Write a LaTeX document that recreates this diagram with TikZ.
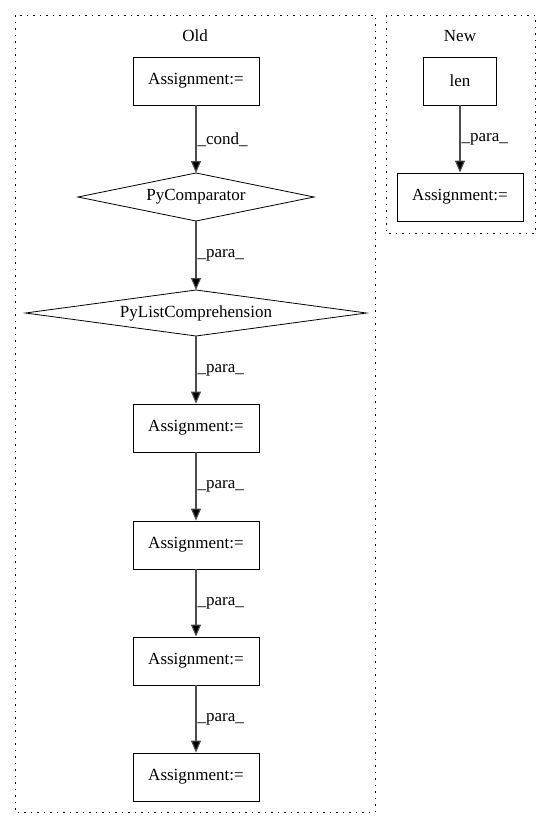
\documentclass[tikz,border=0pt]{standalone}
\usepackage{fontspec}
\setmainfont{Liberation Serif}
\usetikzlibrary{arrows.meta}
\begin{document}
\begin{tikzpicture}[x=1pt,y=-1pt,
  every node/.style={font=\fontsize{17}{19}\selectfont},
  box/.style={draw,line width=0.8pt,minimum width=126pt,minimum height=48pt,inner sep=0pt},
  dia/.style={inner sep=0pt,outer sep=0pt},
  dialine/.style={draw,line width=0.8pt},
  edge/.style={draw=black!70,line width=1.1pt,-{Triangle[length=12pt,width=10pt,fill=black]}},
  lab/.style={anchor=west,inner sep=1pt},
  cluster/.style={draw,line width=1pt,dash pattern=on 1.5pt off 5pt}]
\useasboundingbox (0,0) rectangle (549,828);
\draw[cluster] (15,15) rectangle (375,812);
\draw[cluster] (386,15) rectangle (535,233);
\node (old) at (195,36) {Old};
\node (new) at (460,36) {New};
\node[box] (a1) at (196,81) {Assignment:=};
\node[dia,minimum width=236pt,minimum height=48pt] (pc) at (196,197) {PyComparator};
\draw[dialine] (pc.north) -- (pc.east) -- (pc.south) -- (pc.west) -- cycle;
\node[dia,minimum width=341pt,minimum height=46pt] (plc) at (196,313) {PyListComprehension};
\draw[dialine] (plc.north) -- (plc.east) -- (plc.south) -- (plc.west) -- cycle;
\node[box] (a2) at (196,428) {Assignment:=};
\node[box] (a3) at (196,545) {Assignment:=};
\node[box] (a4) at (196,661) {Assignment:=};
\node[box] (a5) at (196,777) {Assignment:=};
\node[box,minimum width=73pt] (len) at (460,81) {len};
\node[box] (b1) at (460,197) {Assignment:=};
\draw[edge] (a1) -- node[lab] {\_cond\_} (pc);
\draw[edge] (pc) -- node[lab] {\_para\_} (plc);
\draw[edge] (plc) -- node[lab] {\_para\_} (a2);
\draw[edge] (a2) -- node[lab] {\_para\_} (a3);
\draw[edge] (a3) -- node[lab] {\_para\_} (a4);
\draw[edge] (a4) -- node[lab] {\_para\_} (a5);
\draw[edge] (len) -- node[lab] {\_para\_} (b1);
\end{tikzpicture}
\end{document}
